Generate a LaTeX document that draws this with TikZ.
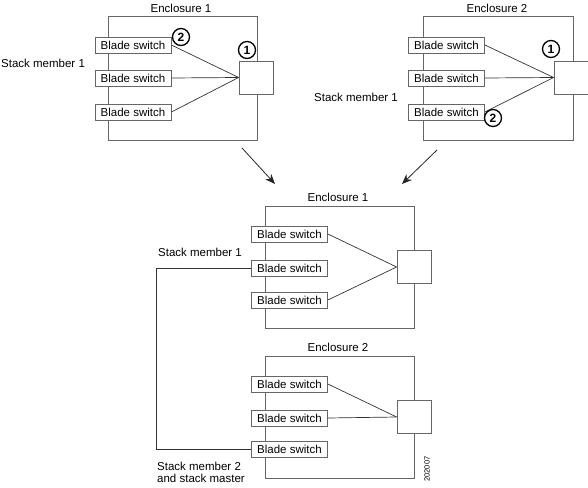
\documentclass[tikz,border=0pt]{standalone}
\usepackage{fontspec}
\setmainfont{Liberation Sans}
\usetikzlibrary{arrows.meta}
\begin{document}
\begin{tikzpicture}[x=1pt,y=-1pt,
  every node/.style={font=\fontsize{11.5}{13}\selectfont},
  encl/.style={draw=black!60, line width=0.8pt, rectangle, inner sep=0pt},
  blade/.style={draw=black!60, line width=0.8pt, fill=white, rectangle, inner sep=0pt, minimum width=76pt, minimum height=16pt},
  sq/.style={draw=black!60, line width=0.8pt, fill=white, rectangle, inner sep=0pt, minimum width=34pt, minimum height=33pt},
  link/.style={draw=black!80, line width=0.7pt},
  callout/.style={circle, draw=black, line width=1.3pt, fill=white, inner sep=0pt, minimum size=17pt, font=\fontsize{12}{12}\selectfont\bfseries},
  lbl/.style={inner sep=0pt},
  bigarrow/.style={draw=black!85, line width=0.8pt, -{Stealth[length=10pt,width=8pt]}}
]
\useasboundingbox (0,0) rectangle (588,487);

% ---------- Top left: Enclosure 1 ----------
\node[encl, minimum width=149pt, minimum height=124pt] (E1) at (182.5,78) {};
\node[lbl] (E1l) at (181,8) {Enclosure 1};
\node[sq] (S1) at (256,77.5) {};
\node[blade] (A1) at (133,45) {Blade switch};
\node[blade] (A2) at (133,78) {Blade switch};
\node[blade] (A3) at (133,112) {Blade switch};
\draw[link] (A1.east) -- (S1.west);
\draw[link] (A2.east) -- (S1.west);
\draw[link] (A3.east) -- (S1.west);
\node[callout] (C1a) at (247,50) {1};
\node[callout] (C2a) at (181,37) {2};
\node[lbl, anchor=west] (SM1a) at (1,63) {Stack member 1};

% ---------- Top right: Enclosure 2 ----------
\node[encl, minimum width=150pt, minimum height=124pt] (E2) at (498,78) {};
\node[lbl] (E2l) at (497,8) {Enclosure 2};
\node[sq] (S2) at (571,77.5) {};
\node[blade] (B1) at (446.5,45) {Blade switch};
\node[blade] (B2) at (446.5,78) {Blade switch};
\node[blade] (B3) at (446.5,112) {Blade switch};
\draw[link] (B1.east) -- (S2.west);
\draw[link] (B2.east) -- (S2.west);
\draw[link] (B3.east) -- (S2.west);
\node[callout] (C1b) at (551,49) {1};
\node[callout] (C2b) at (493,118) {2};
\node[lbl] (SM1b) at (356,97) {Stack member 1};

% ---------- Arrows ----------
\coordinate (ArL1) at (242,148);
\coordinate (ArL2) at (275,184);
\coordinate (ArR1) at (437,150);
\coordinate (ArR2) at (402,184);
\draw[bigarrow] (ArL1) -- (ArL2);
\draw[bigarrow] (ArR1) -- (ArR2);

% ---------- Bottom: Enclosure 1 ----------
\node[encl, minimum width=149pt, minimum height=122pt] (E3) at (339.5,267) {};
\node[lbl] (E3l) at (338,197) {Enclosure 1};
\node[sq] (S3) at (414,267) {};
\node[blade] (D1) at (289.5,234) {Blade switch};
\node[blade] (D2) at (289.5,268) {Blade switch};
\node[blade] (D3) at (289.5,300) {Blade switch};
\draw[link] (D1.east) -- (S3.west);
\draw[link] (D3.east) -- (S3.west);
\node[lbl] (SM1c) at (200,252) {Stack member 1};

% ---------- Bottom: Enclosure 2 ----------
\node[encl, minimum width=149pt, minimum height=122pt] (E4) at (339.5,417) {};
\node[lbl] (E4l) at (338,347) {Enclosure 2};
\node[sq] (S4) at (414,417) {};
\node[blade] (F1) at (289.5,384) {Blade switch};
\node[blade] (F2) at (289.5,418) {Blade switch};
\node[blade] (F3) at (289.5,449) {Blade switch};
\draw[link] (F1.east) -- (S4.west);
\draw[link] (F2.east) -- (S4.west);
\node[lbl, anchor=west, align=left, font=\fontsize{11.5}{12}\selectfont] (SM2) at (157,472) {Stack member 2\\and stack master};

% ---------- Stack cable ----------
\draw[link] (D2.west) -- ++(-95,0) |- (F3.west);

% ---------- Figure id ----------
\node[lbl, rotate=90, font=\fontsize{7.5}{7.5}\selectfont] (fid) at (427,469) {202007};
\end{tikzpicture}
\end{document}
